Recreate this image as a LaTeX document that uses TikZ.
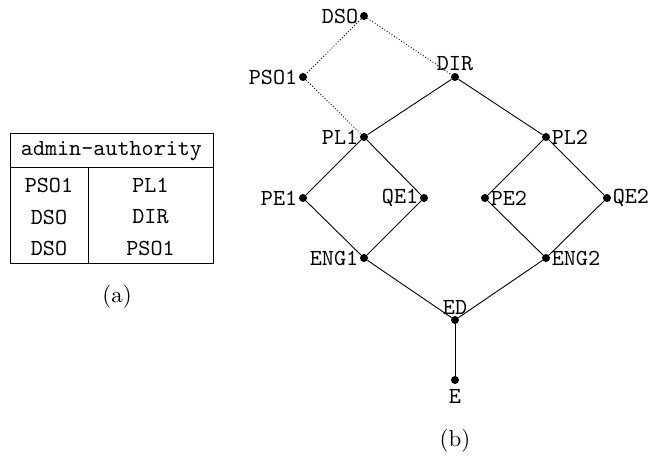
\documentclass[tikz,border=0pt]{standalone}
\usepackage{fontspec}
\begin{document}
\begin{tikzpicture}[x=1pt,y=-1pt,
  dot/.style={circle,fill=black,inner sep=0pt,minimum size=8pt},
  lbl/.style={inner sep=0.5pt,scale=2.3,font=\fontsize{10}{12}\selectfont\ttfamily},
  cell/.style={inner sep=0pt,scale=2.3,font=\fontsize{10}{12}\selectfont\ttfamily},
  captxt/.style={inner sep=0pt,scale=2.3,font=\fontsize{10}{12}\selectfont\rmfamily},
  edge/.style={line width=0.9pt},
  dotedge/.style={line width=0.9pt,dotted}]
\useasboundingbox (0,0) rectangle (650,458);
% table (a)
\draw[line width=1pt] (10,133) rectangle (213,263);
\draw[line width=1pt] (10,167) -- (213,167);
\draw[line width=1pt] (88,167) -- (88,263);
\node[cell] (th) at (111.5,151) {admin-authority};
\node[cell] (a1) at (49,185) {PSO1};
\node[cell] (b1) at (150.5,185) {PL1};
\node[cell] (a2) at (49,217) {DSO};
\node[cell] (b2) at (150.5,217) {DIR};
\node[cell] (a3) at (49,248) {DSO};
\node[cell] (b3) at (150.5,248) {PSO1};
\node[captxt] (capa) at (117,297) {(a)};
% graph (b)
\node[dot] (DSO) at (364,16) {};
\node[dot] (PSO1) at (303,77) {};
\node[dot] (DIR) at (455,77) {};
\node[dot] (PL1) at (364,137) {};
\node[dot] (PL2) at (546,137) {};
\node[dot] (PE1) at (303,198) {};
\node[dot] (QE1) at (424,198) {};
\node[dot] (PE2) at (485,198) {};
\node[dot] (QE2) at (607,198) {};
\node[dot] (ENG1) at (364,258) {};
\node[dot] (ENG2) at (546,258) {};
\node[dot] (ED) at (455,320) {};
\node[dot] (E) at (455,380) {};
\draw[dotedge] (DSO) -- (PSO1);
\draw[dotedge] (DSO) -- (DIR);
\draw[dotedge] (PSO1) -- (PL1);
\draw[edge] (DIR) -- (PL1);
\draw[edge] (DIR) -- (PL2);
\draw[edge] (PL1) -- (PE1);
\draw[edge] (PL1) -- (QE1);
\draw[edge] (PE1) -- (ENG1);
\draw[edge] (QE1) -- (ENG1);
\draw[edge] (PL2) -- (PE2);
\draw[edge] (PL2) -- (QE2);
\draw[edge] (PE2) -- (ENG2);
\draw[edge] (QE2) -- (ENG2);
\draw[edge] (ENG1) -- (ED);
\draw[edge] (ENG2) -- (ED);
\draw[edge] (ED) -- (E);
\node[lbl,anchor=east] (lDSO) at (DSO.west) {DSO};
\node[lbl,anchor=east] (lPSO1) at (PSO1.west) {PSO1};
\node[lbl,anchor=south] (lDIR) at (DIR.north) {DIR};
\node[lbl,anchor=east] (lPL1) at (PL1.west) {PL1};
\node[lbl,anchor=west] (lPL2) at (PL2.east) {PL2};
\node[lbl,anchor=east] (lPE1) at (PE1.west) {PE1};
\node[lbl,anchor=east] (lQE1) at (QE1.west) {QE1};
\node[lbl,anchor=west] (lPE2) at (PE2.east) {PE2};
\node[lbl,anchor=west] (lQE2) at (QE2.east) {QE2};
\node[lbl,anchor=east] (lENG1) at (ENG1.west) {ENG1};
\node[lbl,anchor=west] (lENG2) at (ENG2.east) {ENG2};
\node[lbl,anchor=south] (lED) at (ED.north) {ED};
\node[lbl,anchor=north,inner sep=2pt] (lE) at (E.south) {E};
\node[captxt] (capb) at (455,441) {(b)};
\end{tikzpicture}
\end{document}
